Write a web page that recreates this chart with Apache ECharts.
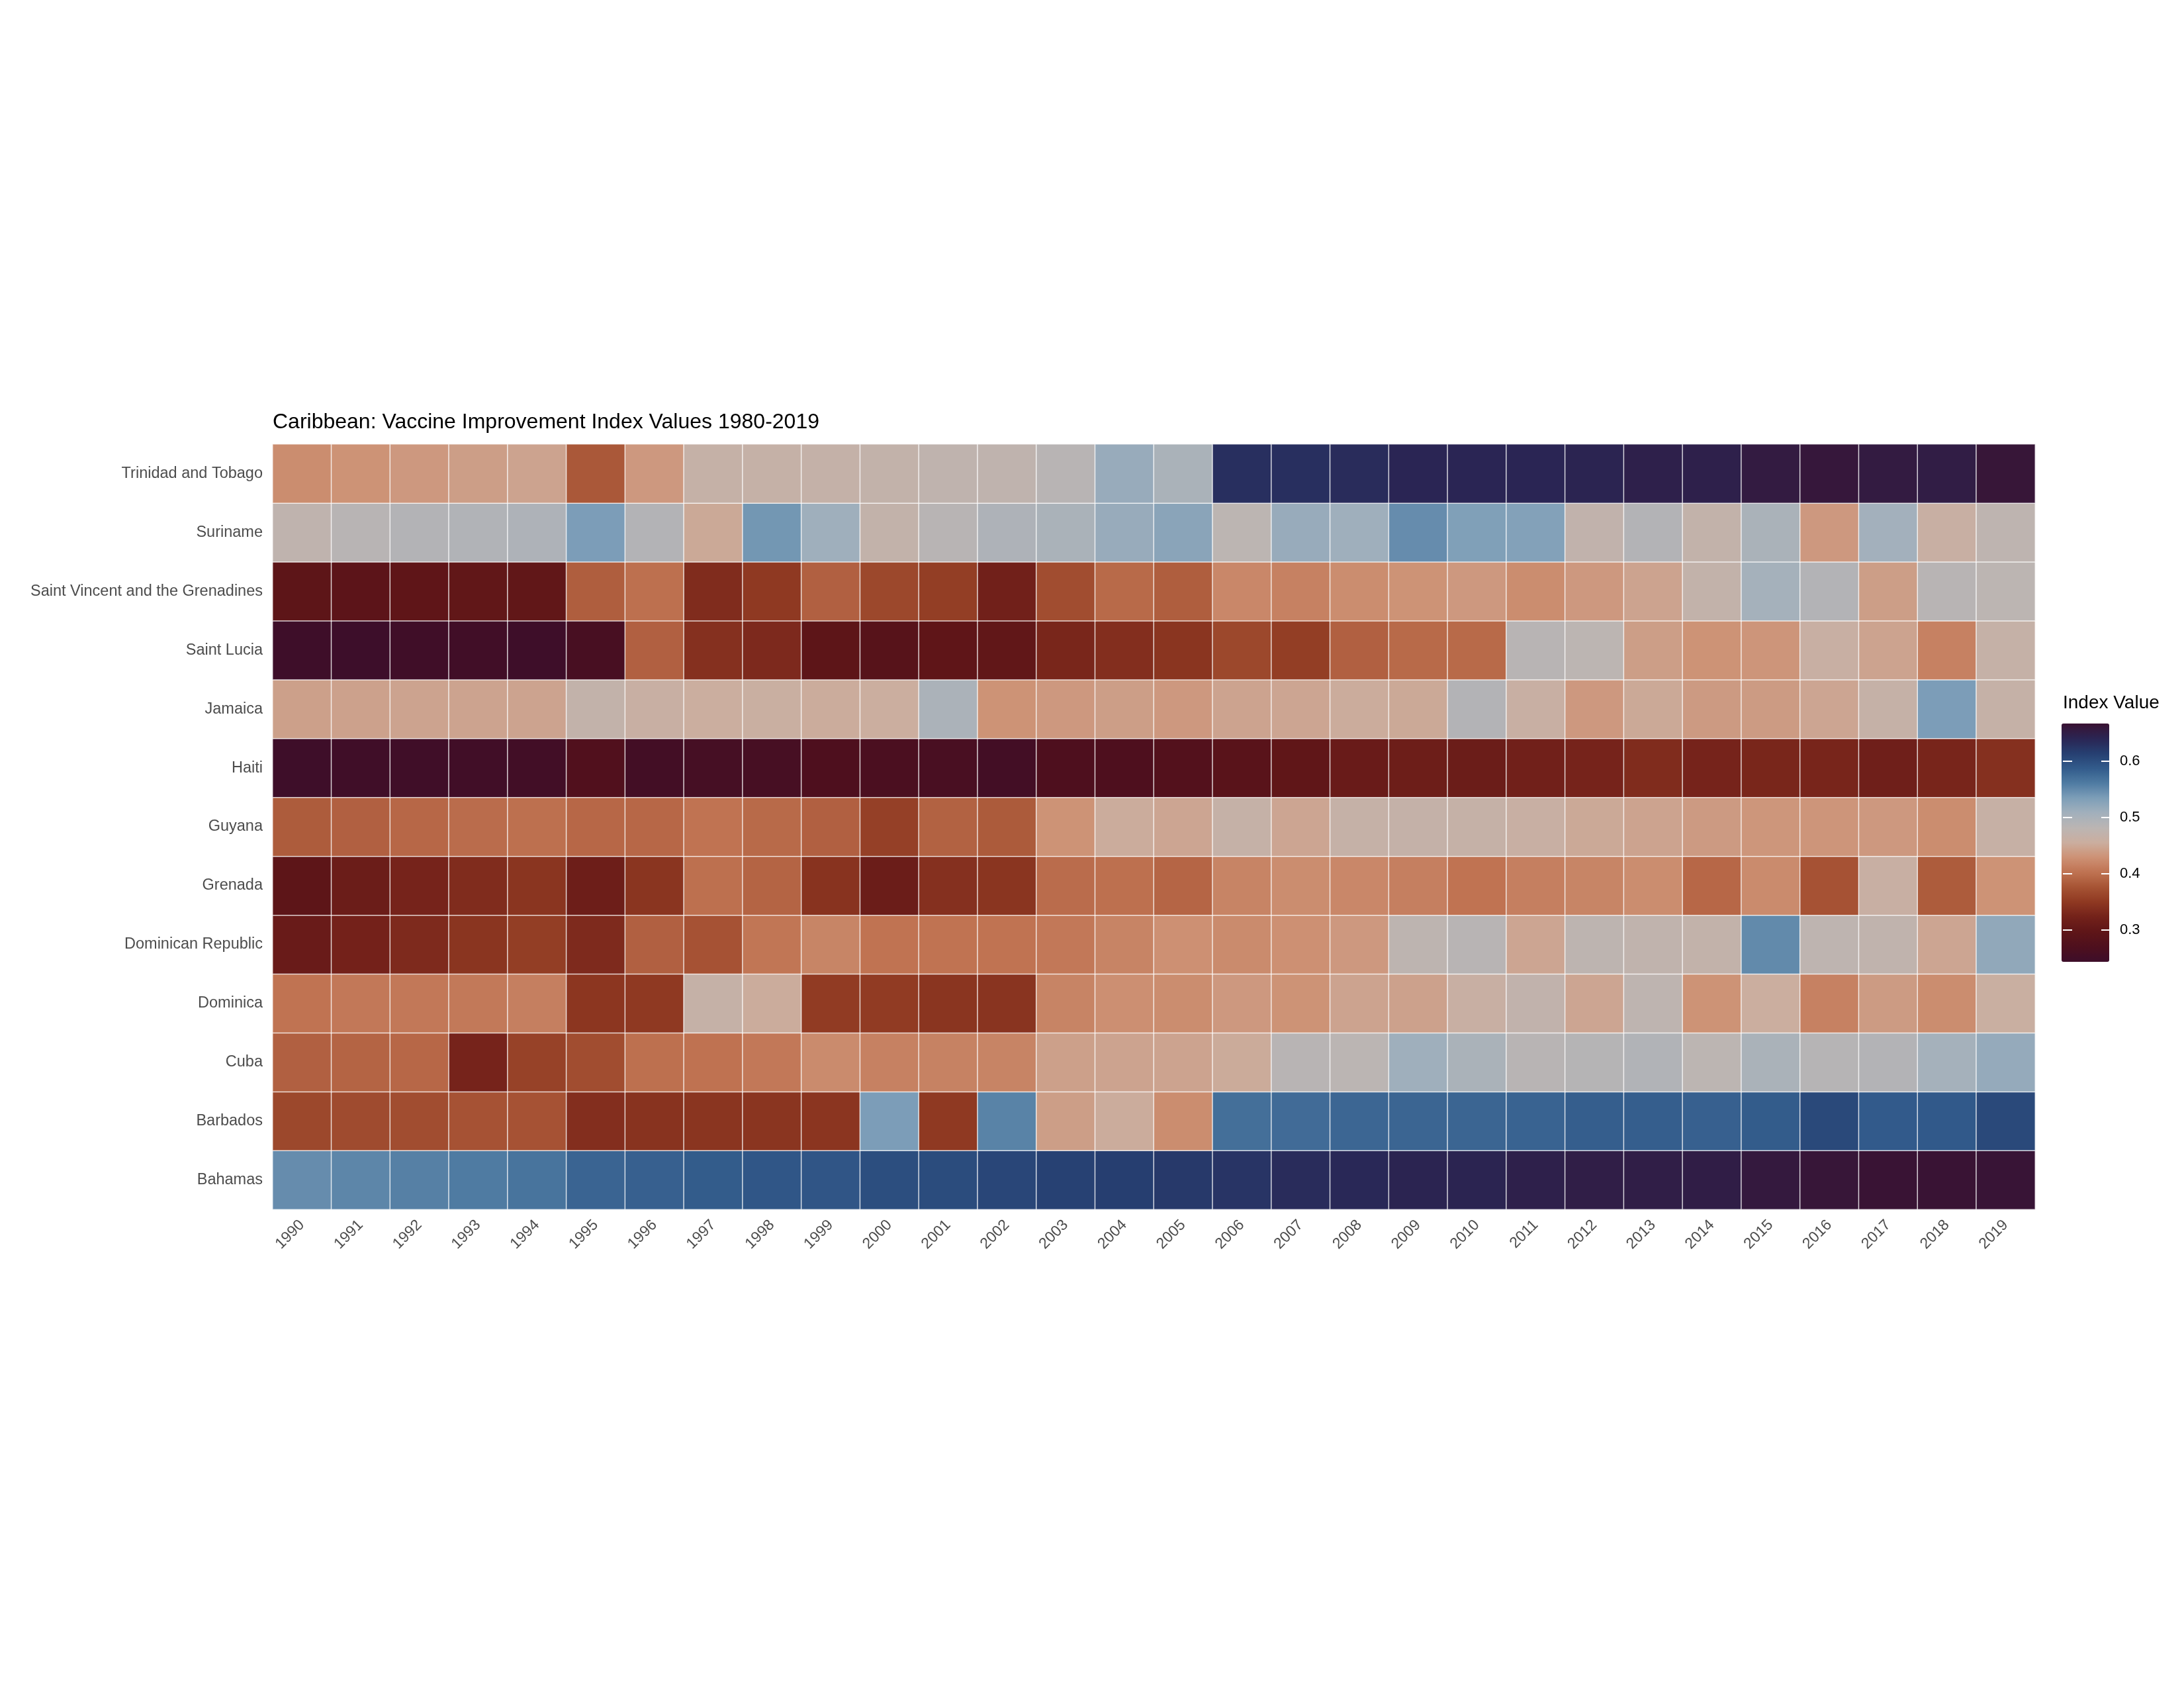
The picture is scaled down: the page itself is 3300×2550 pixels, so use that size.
<!DOCTYPE html>
<html>
<head>
<meta charset="utf-8">
<title>Caribbean: Vaccine Improvement Index Values</title>
<script src="https://cdn.jsdelivr.net/npm/echarts@6/dist/echarts.min.js"></script>
<style>
  html, body { margin: 0; padding: 0; background: #fff; }
  #chart { width: 3300px; height: 2550px; }
</style>
</head>
<body>
<div id="chart"></div>
<script>
// years on the x axis
var years = ['1990','1991','1992','1993','1994','1995','1996','1997','1998','1999',
             '2000','2001','2002','2003','2004','2005','2006','2007','2008','2009',
             '2010','2011','2012','2013','2014','2015','2016','2017','2018','2019'];

// countries, bottom row first (category axis starts at the bottom)
var countries = ['Bahamas','Barbados','Cuba','Dominica','Dominican Republic','Grenada',
                 'Guyana','Haiti','Jamaica','Saint Lucia',
                 'Saint Vincent and the Grenadines','Suriname','Trinidad and Tobago'];

// index values per country, 1990-2019
var bahamas = [0.553,0.558,0.562,0.566,0.572,0.585,0.588,0.592,0.597,0.598,
               0.605,0.607,0.612,0.617,0.620,0.625,0.630,0.638,0.642,0.647,
               0.647,0.652,0.655,0.655,0.656,0.662,0.667,0.670,0.670,0.669];
var barbados = [0.370,0.373,0.375,0.380,0.380,0.343,0.348,0.350,0.350,0.351,
                0.540,0.355,0.560,0.445,0.458,0.430,0.576,0.579,0.583,0.584,
                0.584,0.586,0.590,0.590,0.588,0.592,0.610,0.593,0.594,0.610];
var cuba = [0.392,0.395,0.398,0.330,0.364,0.375,0.405,0.407,0.412,0.428,
            0.420,0.421,0.422,0.447,0.450,0.450,0.457,0.490,0.487,0.515,
            0.505,0.490,0.493,0.497,0.485,0.505,0.492,0.495,0.510,0.522];
var dominica = [0.408,0.412,0.412,0.413,0.418,0.352,0.355,0.470,0.458,0.357,
                0.357,0.350,0.349,0.422,0.432,0.430,0.440,0.435,0.450,0.448,
                0.465,0.477,0.452,0.482,0.435,0.460,0.420,0.443,0.430,0.463];
var dominicanRep = [0.315,0.328,0.338,0.350,0.360,0.338,0.392,0.380,0.410,0.423,
                    0.408,0.408,0.408,0.412,0.422,0.433,0.428,0.433,0.440,0.483,
                    0.490,0.452,0.483,0.478,0.475,0.555,0.482,0.478,0.452,0.525];
var grenada = [0.300,0.318,0.330,0.340,0.350,0.320,0.350,0.405,0.395,0.348,
               0.318,0.345,0.350,0.402,0.405,0.396,0.422,0.430,0.425,0.418,
               0.408,0.418,0.423,0.430,0.398,0.428,0.380,0.465,0.388,0.435];
var guyana = [0.388,0.392,0.398,0.402,0.405,0.398,0.398,0.408,0.400,0.392,
              0.362,0.393,0.387,0.435,0.458,0.452,0.470,0.452,0.470,0.472,
              0.470,0.465,0.455,0.450,0.442,0.438,0.437,0.440,0.430,0.468];
var haiti = [0.250,0.253,0.252,0.254,0.256,0.280,0.258,0.262,0.264,0.275,
             0.270,0.266,0.258,0.275,0.275,0.283,0.292,0.303,0.315,0.320,
             0.318,0.325,0.330,0.340,0.330,0.333,0.332,0.323,0.332,0.345];
var jamaica = [0.447,0.448,0.450,0.450,0.450,0.475,0.465,0.460,0.463,0.458,
               0.460,0.503,0.435,0.440,0.445,0.440,0.450,0.452,0.458,0.455,
               0.495,0.465,0.440,0.455,0.442,0.443,0.452,0.470,0.540,0.470];
var saintLucia = [0.250,0.248,0.252,0.255,0.250,0.265,0.392,0.345,0.337,0.300,
                  0.290,0.302,0.305,0.333,0.343,0.350,0.370,0.360,0.392,0.400,
                  0.400,0.490,0.485,0.445,0.435,0.437,0.465,0.450,0.420,0.470];
var saintVincent = [0.300,0.298,0.302,0.305,0.305,0.390,0.405,0.340,0.355,0.392,
                    0.370,0.360,0.325,0.375,0.400,0.390,0.425,0.420,0.430,0.435,
                    0.440,0.430,0.440,0.450,0.475,0.510,0.495,0.445,0.490,0.485];
var suriname = [0.480,0.490,0.495,0.497,0.500,0.540,0.495,0.455,0.545,0.515,
                0.475,0.490,0.500,0.505,0.520,0.530,0.485,0.520,0.515,0.553,
                0.537,0.535,0.477,0.495,0.475,0.505,0.440,0.512,0.465,0.482];
var trinidad = [0.430,0.435,0.440,0.445,0.450,0.385,0.440,0.470,0.470,0.472,
                0.475,0.480,0.480,0.490,0.520,0.505,0.635,0.635,0.638,0.645,
                0.645,0.645,0.647,0.652,0.652,0.660,0.665,0.660,0.657,0.667];

// colour bar limits and ticks
var valueMin = 0.248;
var valueMax = 0.672;
var legendTicks = [0.3, 0.4, 0.5, 0.6];

// same order as countries
var rows = [bahamas, barbados, cuba, dominica, dominicanRep, grenada, guyana,
            haiti, jamaica, saintLucia, saintVincent, suriname, trinidad];

var cells = [];
rows.forEach(function (vals, yi) {
	vals.forEach(function (v, xi) {
		cells.push([xi, yi, v]);
	});
});

var palette = ['#3d0e2a','#4e0f1e','#5e1518','#73211a','#8e3821','#a65334','#bf7251',
               '#cd9174','#cbae9f','#bbb5b3','#a2b0bc','#7d9eb8','#4f7ba2','#325b8b',
               '#263f71','#2a2553','#3a1232'];

var font = '"Liberation Sans", Arial, Helvetica, sans-serif';

var chart = echarts.init(document.getElementById('chart'));
chart.setOption({
	backgroundColor: '#fff',
	animation: false,
	title: [{
		text: 'Caribbean: Vaccine Improvement Index Values 1980-2019',
		left: 407,
		top: 617,
		textStyle: { fontFamily: font, fontSize: 32, fontWeight: 'normal', color: '#000' }
	}, {
		text: 'Index Value',
		left: 3112,
		top: 1043,
		textStyle: { fontFamily: font, fontSize: 28, fontWeight: 'normal', color: '#000' }
	}],
	grid: [{
		left: 412, top: 671, width: 2663, height: 1156
	}, {
		left: 3117, top: 1089, width: 72, height: 360
	}],
	xAxis: [{
		type: 'category',
		data: years,
		axisLine: { show: false },
		axisTick: { show: false },
		splitLine: { show: false },
		axisLabel: {
			interval: 0, rotate: 45, margin: 20,
			fontFamily: font, fontSize: 23, color: '#4d4d4d'
		}
	}, {
		gridIndex: 1, type: 'category', data: [''], show: false
	}],
	yAxis: [{
		type: 'category',
		data: countries,
		axisLine: { show: false },
		axisTick: { show: false },
		splitLine: { show: false },
		axisLabel: { margin: 15, fontFamily: font, fontSize: 23.5, color: '#4d4d4d' }
	}, {
		// colour bar scale (right side, with labels)
		gridIndex: 1, type: 'value', min: valueMin, max: valueMax,
		position: 'right', z: 10,
		axisLine: { show: false },
		splitLine: { show: false },
		axisTick: {
			show: true, inside: true, length: 14, customValues: legendTicks,
			lineStyle: { color: '#ffffff', width: 2 }
		},
		axisLabel: {
			customValues: legendTicks, margin: 14,
			fontFamily: font, fontSize: 22, color: '#000',
			formatter: function (v) { return v.toFixed(1); }
		}
	}, {
		// colour bar ticks on the left side
		gridIndex: 1, type: 'value', min: valueMin, max: valueMax,
		position: 'left', z: 10,
		axisLine: { show: false },
		splitLine: { show: false },
		axisLabel: { show: false },
		axisTick: {
			show: true, inside: true, length: 14, customValues: legendTicks,
			lineStyle: { color: '#ffffff', width: 2 }
		}
	}],
	visualMap: {
		type: 'continuous',
		seriesIndex: 0,
		min: valueMin,
		max: valueMax,
		calculable: false,
		orient: 'vertical',
		left: 3100,
		top: 1078,
		itemWidth: 72,
		itemHeight: 360,
		inRange: { color: palette }
	},
	series: [{
		type: 'heatmap',
		xAxisIndex: 0,
		yAxisIndex: 0,
		data: cells,
		itemStyle: { borderColor: 'rgba(255,255,255,0.75)', borderWidth: 1.5 },
		emphasis: { disabled: true }
	}]
});
</script>
</body>
</html>
